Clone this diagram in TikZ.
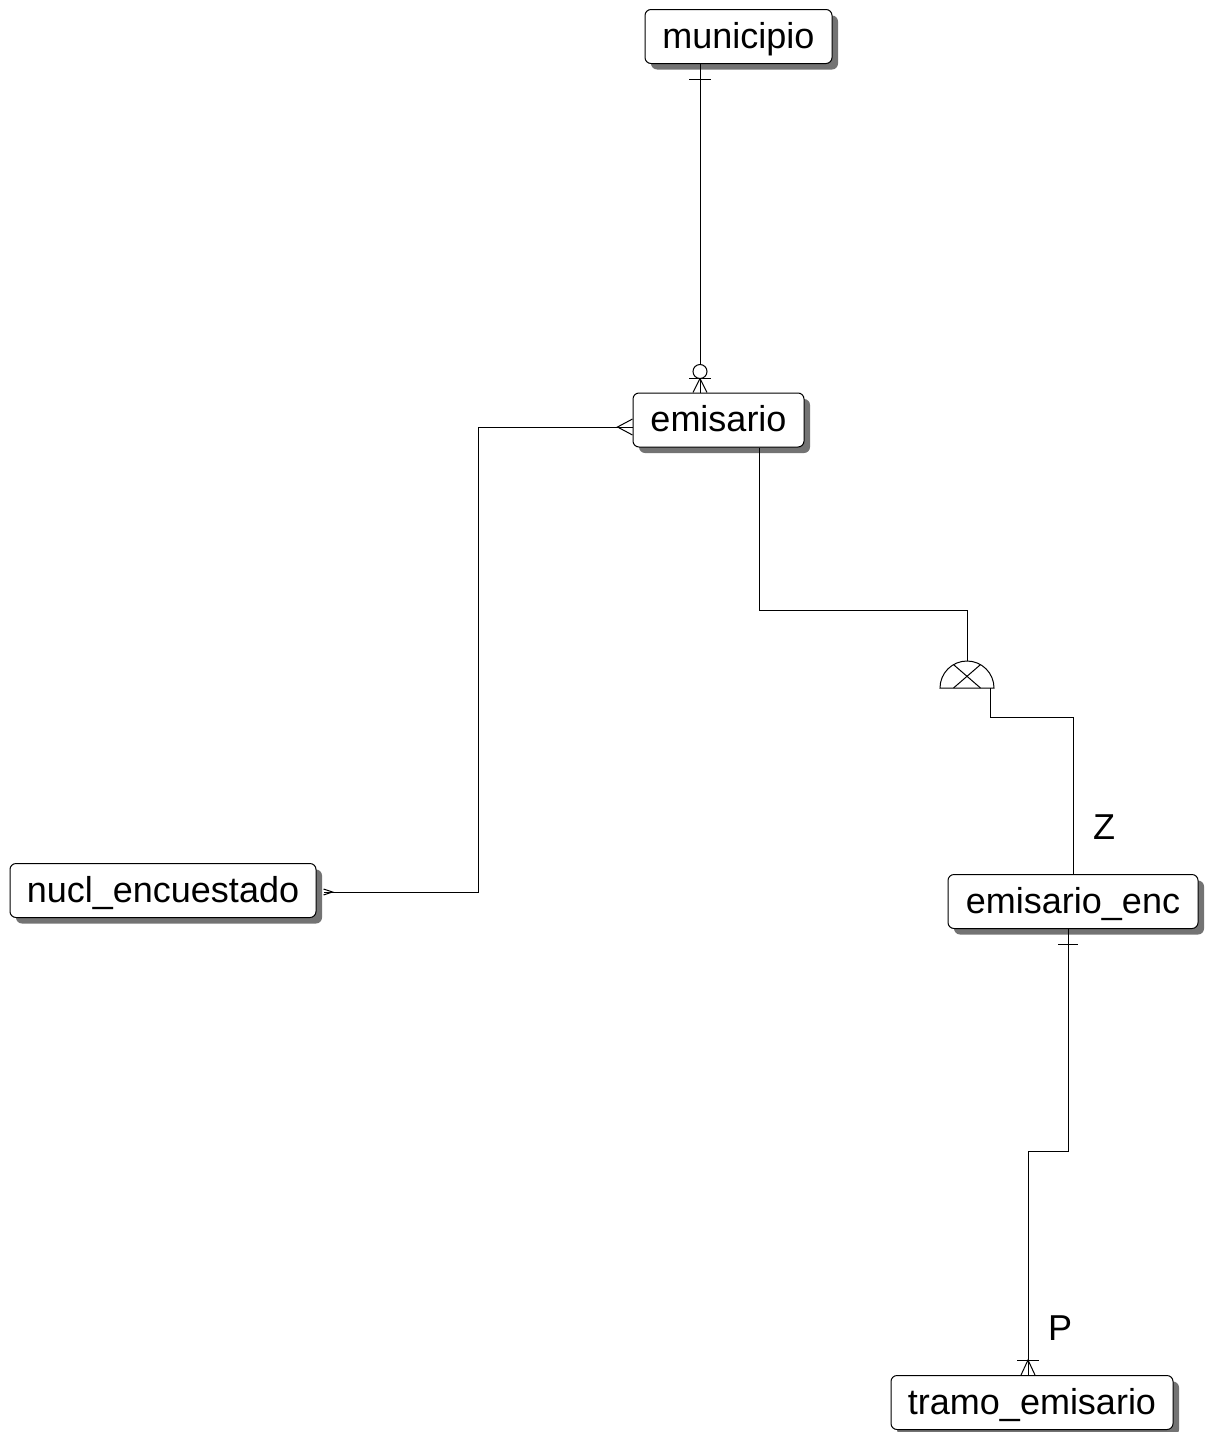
\documentclass[tikz,border=0pt]{standalone}
\usepackage{fontspec}
\setmainfont{Liberation Sans}
\usetikzlibrary{shadows,calc}

\tikzset{
    entity/.style={draw, line width=1pt, fill=white, rounded corners=6pt,
        minimum height=54pt, inner sep=0pt, text height=27pt, text depth=4pt,
        font=\fontsize{36}{40}\selectfont,
        drop shadow={shadow xshift=6pt, shadow yshift=-6pt, fill=black!55, opacity=1}},
    rel/.style={line width=1pt},
    lab/.style={font=\fontsize{36}{40}\selectfont}
}

\begin{document}
\begin{tikzpicture}[x=1pt,y=1pt]
    \useasboundingbox (0,0) rectangle (1215,-1432);

    % Define entities
    \foreach \n/\x/\y/\w/\txt in {municipio/738.5/-36.5/187/municipio,
        emisario/718.5/-420/171/emisario,
        nucl/163/-890.5/306/nucl\_encuestado,
        enc/1073/-901.5/250/emisario\_enc,
        tramo/1032/-1402.5/282/tramo\_emisario} {
        \node[entity, minimum width=\w] (\n) at (\x,\y) {\txt};
    }

    % Bend points
    \coordinate (c1) at (700,0);
    \coordinate (c2) at (478,-427);
    \coordinate (c3) at (478,-892);
    \coordinate (c4) at (759,-610);
    \coordinate (sub) at (967,-688);
    \coordinate (c5) at (1073,-717);
    \coordinate (c6) at (1068,-1151);
    \coordinate (c7) at (1028,-1151);

    % municipio -- emisario
    \coordinate (m1) at (municipio.south -| c1);
    \coordinate (m2) at (emisario.north -| c1);
    \draw[rel] (m1) -- (m2);
    \draw[rel] (m1) ++(-11,-15) -- ++(22,0);
    \draw[rel] (m2) ++(-11,14) -- ++(22,0);
    \draw[rel] (m2) ++(-7,0) -- ++(7,14) -- ++(7,-14);
    \draw[rel, fill=white] (m2) ++(0,21) circle[radius=7];

    % emisario -- nucl
    \coordinate (e1) at (emisario.west |- c2);
    \coordinate (n1) at ($(nucl.east |- c3)+(7,0)$);
    \draw[rel] (e1) -- (c2) -- (c3) -- (n1);
    \draw[rel] (e1) ++(0,8) -- ++(-15,-8) -- ++(15,-8);
    \draw[rel] (n1) ++(0,3) -- ++(9,-3) -- ++(-9,-3);

    % emisario -- subtype -- enc
    \draw[rel] (emisario.south -| c4) -- (c4) -| ($(sub)+(0,27)$);
    \draw[rel] ($(sub)+(-27,0)$) arc[start angle=180, end angle=0, radius=27] -- cycle;
    \draw[rel] ($(sub)+(-13.5,0)$) -- ($(sub)+(13.5,23.4)$);
    \draw[rel] ($(sub)+(13.5,0)$) -- ($(sub)+(-13.5,23.4)$);
    \draw[rel] ($(sub)+(23,0)$) |- (c5) -- (enc.north -| c5);
    \node[lab] (z) at (1104,-827) {Z};

    % enc -- tramo
    \coordinate (t1) at (enc.south -| c6);
    \coordinate (t2) at (tramo.north -| c7);
    \draw[rel] (t1) -- (c6) -- (c7) -- (t2);
    \draw[rel] (t1) ++(-10,-15) -- ++(20,0);
    \draw[rel] (t2) ++(-11,15) -- ++(22,0);
    \draw[rel] (t2) ++(-7,0) -- ++(7,15) -- ++(7,-15);
    \node[lab] (p) at (1060,-1328) {P};

\end{tikzpicture}
\end{document}
